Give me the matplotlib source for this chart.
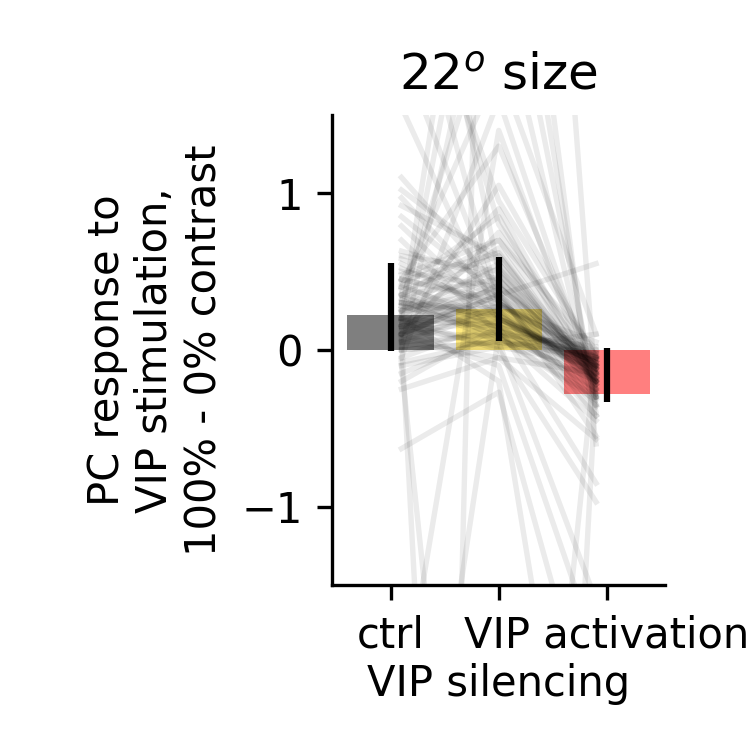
import matplotlib
matplotlib.use("Agg")
import matplotlib.pyplot as plt

# ── Chart data ──────────────────────────────────────────
tick_labels = ["ctrl", "\nVIP silencing", "VIP activation"]
bar_heights = [0.22, 0.26, -0.28]
err_lo = [-0.01, 0.055, 0.01]
err_hi = [0.555, 0.59, -0.33]
bar_colors = ["k", "gold", "r"]

# per-cell responses (ctrl, VIP silencing, VIP activation)
ctrl_vals = [0.15, 0.25, 0.05, 0.30, 0.10, 0.40, 0.20, 0.35, 0.00, 0.45,
             0.22, 0.12, 0.50, 0.28, -0.05, 0.38, 0.18, 0.08, 0.55, 0.32,
             -0.10, 0.60, 0.25, 0.14, 0.42, 0.05, -0.15, 0.20, 0.48, 0.35,
             0.10, -0.20, 0.26, 0.16, 0.40, -0.25,
             0.12, 0.30, 0.45, 0.02, 0.52, 0.18, 0.36, 0.24, -0.08, 0.58,
             0.06, 0.44, 0.28, 0.15, 0.33,
             1.10, 1.02, 0.97, 0.92, 0.79, 0.63, 0.85, 0.70,
             1.55, 1.90, 2.60, 3.50, 2.70, 2.90,
             0.30, 0.20, 0.40, 0.10, 0.25, 0.00, -0.05, 0.35, 0.45, 0.15,
             0.10, 0.20, 0.30, 0.05, 0.15,
             0.08, -2.30, -0.63, 0.10, 0.00, 0.20, -0.10, -4.00, -17.0]
sil_vals = [0.20, 0.30, 0.10, 0.25, 0.35, 0.20, 0.15, 0.45, 0.05, 0.30,
            0.55, 0.08, 0.40, 0.12, 0.18, 0.60, 0.28, 0.42, 0.22, 0.05,
            0.02, 0.50, 0.65, 0.36, 0.14, 0.25, 0.10, 0.48, 0.70, 0.08,
            0.75, 0.15, 0.38, 0.02, 0.85, -0.05,
            0.18, 0.22, 0.32, 0.12, 0.26, 0.40, 0.16, 0.52, 0.06, 0.34,
            0.28, 0.62, 0.10, 0.44, 0.20,
            0.40, 0.55, 0.30, 0.60, 0.20, 0.45, 0.35, 0.10,
            0.20, 0.30, 0.30, 0.50, 0.95, 0.80,
            2.30, 4.20, 1.80, 1.05, 0.90, 2.80, 1.60, 0.70, 1.30, 3.40,
            0.35, 0.00, 0.15, -0.05, 0.25,
            -11.6, 1.40, -0.27, -0.10, 0.05, -0.20, -6.00, 0.10, 8.00]
act_vals = [-0.10, -0.15, -0.05, -0.20, -0.12, -0.08, -0.25, -0.18, -0.02, -0.10,
            -0.15, -0.30, -0.05, -0.12, -0.08, -0.22, 0.05, -0.35, -0.14, -0.06,
            -0.10, -0.28, -0.20, -0.42, -0.02, -0.18, -0.20, -0.09, -0.16, -0.32,
            -0.12, -0.05, -0.55, 0.10, -0.25, -0.15,
            -0.08, -0.12, -0.22, -0.04, -0.18, -0.10, -0.28, -0.14, -0.06, -0.36,
            -0.02, -0.20, -0.45, -0.10, -0.16,
            -0.10, -0.20, -0.05, -0.15, -0.08, -0.30, -0.12, 0.02,
            -0.12, -0.18, -0.06, -0.22, -0.04, -0.10,
            -0.35, -0.60, 0.10, -0.05, -0.20, -0.30, -0.25, 0.00, -0.15, -0.40,
            0.55, -0.97, -0.85, -0.57, -0.42,
            -0.20, -0.30, -2.50, -1.90, -1.60, -4.00, 0.00, -0.20, -0.30]

cond_x = [0, 1, 2]
line_x = [0.1, 1, 1.9]

fig = plt.figure(figsize=(2.5, 2.5), dpi=300)
ax = fig.add_axes([0.443, 0.22, 0.444, 0.627])

for c, s, a in zip(ctrl_vals, sil_vals, act_vals):
    ax.plot(line_x, [c, s, a], color="k", alpha=0.08, lw=1.3)

ax.bar(cond_x, bar_heights, width=0.8, color=bar_colors, alpha=0.5)
ax.vlines(cond_x, err_lo, err_hi, color="k", lw=1.5)

ax.set_ylim(-1.5, 1.5)
ax.set_xticks(cond_x)
ax.set_xticklabels(tick_labels)
ax.set_ylabel("PC response to\nVIP stimulation,\n100% - 0% contrast")
ax.set_title("22$^o$ size")
ax.spines["top"].set_visible(False)
ax.spines["right"].set_visible(False)

fig.savefig("out.png", dpi=300, facecolor="white")
